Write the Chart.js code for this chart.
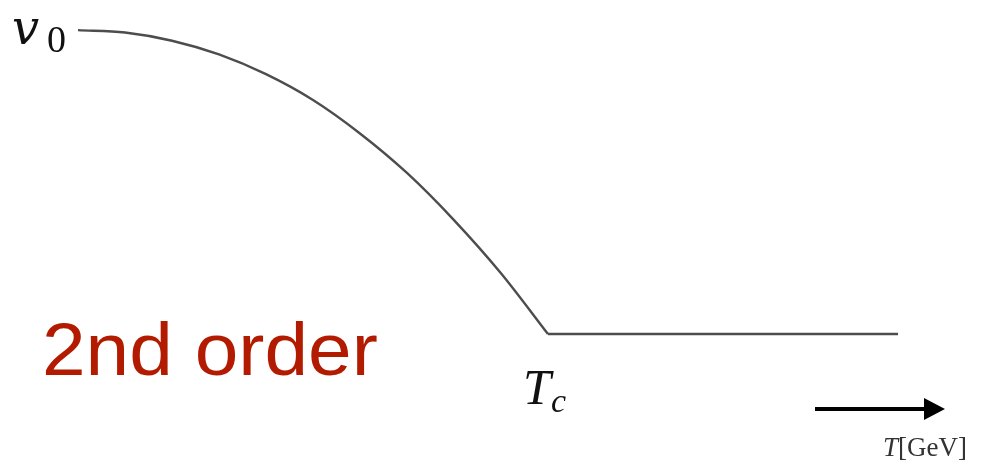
<!DOCTYPE html>
<html>
<head>
<meta charset="utf-8">
<script src="https://cdn.jsdelivr.net/npm/chart.js@4.4.1/dist/chart.umd.min.js"></script>
<style>
  html, body { margin: 0; padding: 0; background: #fff; }
  #wrap { width: 993px; height: 462px; position: relative; }
</style>
</head>
<body>
<div id="wrap"><canvas id="orden"></canvas></div>
<script>
// T en unidades de Tc, v en unidades de v0
const tCurva = [0, 0.1, 0.2, 0.3, 0.4, 0.5, 0.6, 0.7, 0.8, 0.9, 1.0];
const vCurva = [1, 0.992, 0.965, 0.920, 0.855, 0.770, 0.660, 0.530, 0.375, 0.200, 0];
const tMeseta = [1.0, 1.745];
const vMeseta = [0, 0];
const etiquetaV = ['v', '0'];
const etiquetaT = ['T', 'c'];
const titulo = '2nd order';
const ejeTexto = ['T', '[GeV]'];

const colorLinea = '#4d4d4d';

const puntos = (xs, ys) => xs.map((x, i) => ({ x: x, y: ys[i] }));

// Plugin para los textos y la flecha
const anotaciones = {
    id: 'anotaciones',
    afterDraw(chart) {
        const c = chart.ctx;
        const sx = chart.scales.x, sy = chart.scales.y;
        c.save();
        c.fillStyle = '#111';
        c.textBaseline = 'alphabetic';
        c.textAlign = 'left';

        // v0 a la izquierda del inicio de la curva
        const x0 = sx.getPixelForValue(tCurva[0]);
        const y0 = sy.getPixelForValue(vCurva[0]);
        c.font = 'italic 48px "DejaVu Serif"';
        c.fillText(etiquetaV[0], x0 - 66, y0 + 14);
        c.font = '38px "Liberation Serif"';
        c.fillText(etiquetaV[1], x0 - 31, y0 + 22);

        // Tc debajo del quiebre
        const xc = sx.getPixelForValue(1);
        const yc = sy.getPixelForValue(0);
        c.font = 'italic 50px "Liberation Serif"';
        c.fillText(etiquetaT[0], xc - 25, yc + 70);
        c.font = 'italic 34px "Liberation Serif"';
        c.fillText(etiquetaT[1], xc + 3, yc + 78);

        // 2nd order
        c.fillStyle = '#b31b00';
        c.font = '74px "Liberation Sans"';
        c.save();
        c.translate(42, 375);
        c.scale(1.06, 1);
        c.fillText(titulo, 0, 0);
        c.restore();

        // flecha
        c.strokeStyle = '#000';
        c.fillStyle = '#000';
        c.lineWidth = 4;
        c.beginPath();
        c.moveTo(815, 409);
        c.lineTo(928, 409);
        c.stroke();
        c.beginPath();
        c.moveTo(924, 398);
        c.lineTo(945, 409);
        c.lineTo(924, 420);
        c.closePath();
        c.fill();

        // T[GeV]
        c.fillStyle = '#333';
        c.font = 'italic 27px "Liberation Serif"';
        c.fillText(ejeTexto[0], 883, 456);
        const w = c.measureText(ejeTexto[0]).width;
        c.font = '27px "Liberation Serif"';
        c.fillText(ejeTexto[1], 883 + w, 456);
        c.restore();
    }
};

const ctx = document.getElementById('orden').getContext('2d');
const grafico = new Chart(ctx, {
    type: 'scatter',
    data: {
        datasets: [{
            data: puntos(tCurva, vCurva),
            showLine: true,
            borderColor: colorLinea,
            borderWidth: 2.4,
            pointRadius: 0,
            cubicInterpolationMode: 'monotone'
        }, {
            data: puntos(tMeseta, vMeseta),
            showLine: true,
            borderColor: colorLinea,
            borderWidth: 2.4,
            pointRadius: 0
        }]
    },
    options: {
        responsive: true,
        maintainAspectRatio: false,
        animation: false,
        layout: { padding: 0 },
        plugins: {
            legend: { display: false },
            tooltip: { enabled: false }
        },
        scales: {
            x: { type: 'linear', display: false, min: -0.166, max: 1.947 },
            y: { type: 'linear', display: false, min: -0.421, max: 1.099 }
        }
    },
    plugins: [anotaciones]
});
</script>
</body>
</html>
